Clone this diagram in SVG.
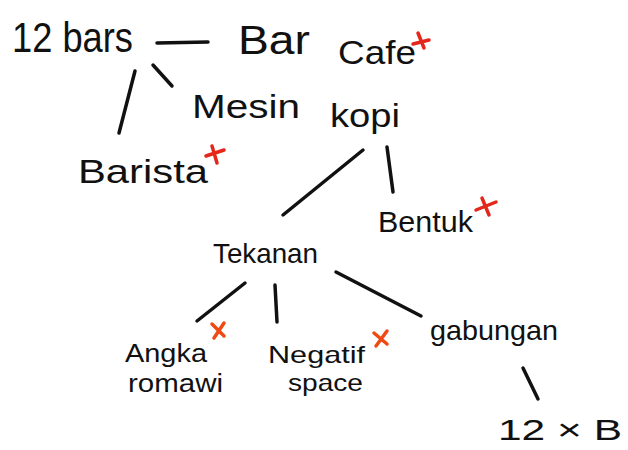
<svg xmlns="http://www.w3.org/2000/svg" width="628" height="450" viewBox="0 0 628 450">
<style>
.t{font-family:"Liberation Sans","DejaVu Sans",sans-serif;fill:#111;}
.c{stroke:#111;stroke-width:3.5;stroke-linecap:round;fill:none;}
.x{stroke:#e5261b;stroke-width:3.5;stroke-linecap:round;fill:none;}
.x2{stroke:#f04a14;stroke-width:3.5;stroke-linecap:round;fill:none;}
</style>
<rect width="628" height="450" fill="#fff"/>
<g id="connectors">
<path class="c" d="M157 43 L208 42"/>
<path class="c" d="M135 71 L119 133"/>
<path class="c" d="M153 65 L172 86"/>
<path class="c" d="M363 150 L283 215"/>
<path class="c" d="M387 147 L393 192"/>
<path class="c" d="M245 283 L197 321"/>
<path class="c" d="M275 285 L277 322"/>
<path class="c" d="M336 272 L421 316"/>
<path class="c" d="M523 368 L538 399"/>
</g>
<g id="n-12bars"><text class="t" x="12" y="52" font-size="42" textLength="121" lengthAdjust="spacingAndGlyphs">12 bars</text></g>
<g id="n-barcafe">
<text class="t" x="238" y="54" font-size="40" textLength="72" lengthAdjust="spacingAndGlyphs">Bar</text>
<text class="t" x="338" y="64" font-size="34" textLength="78" lengthAdjust="spacingAndGlyphs">Cafe</text>
<path class="x" d="M413 44 L429 40 M418 33 L424 48"/>
</g>
<g id="n-mesinkopi">
<text class="t" x="192" y="118" font-size="34" textLength="108" lengthAdjust="spacingAndGlyphs">Mesin</text>
<text class="t" x="330" y="127" font-size="34" textLength="70" lengthAdjust="spacingAndGlyphs">kopi</text>
</g>
<g id="n-barista">
<text class="t" x="78" y="183" font-size="34" textLength="130" lengthAdjust="spacingAndGlyphs">Barista</text>
<path class="x" d="M206 156 L224 150 M212 146 L217 163"/>
</g>
<g id="n-bentuk">
<text class="t" x="378" y="232" font-size="30" textLength="95" lengthAdjust="spacingAndGlyphs">Bentuk</text>
<path class="x" d="M476 210 L496 202 M482 198 L489 215"/>
</g>
<g id="n-tekanan"><text class="t" x="213" y="263" font-size="28" textLength="105" lengthAdjust="spacingAndGlyphs">Tekanan</text></g>
<g id="n-angka">
<text class="t" x="125" y="362" font-size="26" textLength="82" lengthAdjust="spacingAndGlyphs">Angka</text>
<text class="t" x="128" y="392" font-size="26" textLength="95" lengthAdjust="spacingAndGlyphs">romawi</text>
<path class="x2" d="M212 324 L224 336 M224 323 L214 338"/>
</g>
<g id="n-negatif">
<text class="t" x="268" y="363" font-size="24" textLength="97" lengthAdjust="spacingAndGlyphs">Negatif</text>
<text class="t" x="288" y="391" font-size="24" textLength="75" lengthAdjust="spacingAndGlyphs">space</text>
<path class="x2" d="M374 333 L387 344 M387 331 L376 346"/>
</g>
<g id="n-gabungan"><text class="t" x="430" y="340" font-size="28" textLength="128" lengthAdjust="spacingAndGlyphs">gabungan</text></g>
<g id="n-12xb"><text class="t" x="498" y="440" font-size="30" textLength="124" lengthAdjust="spacingAndGlyphs">12 × B</text></g>
</svg>
